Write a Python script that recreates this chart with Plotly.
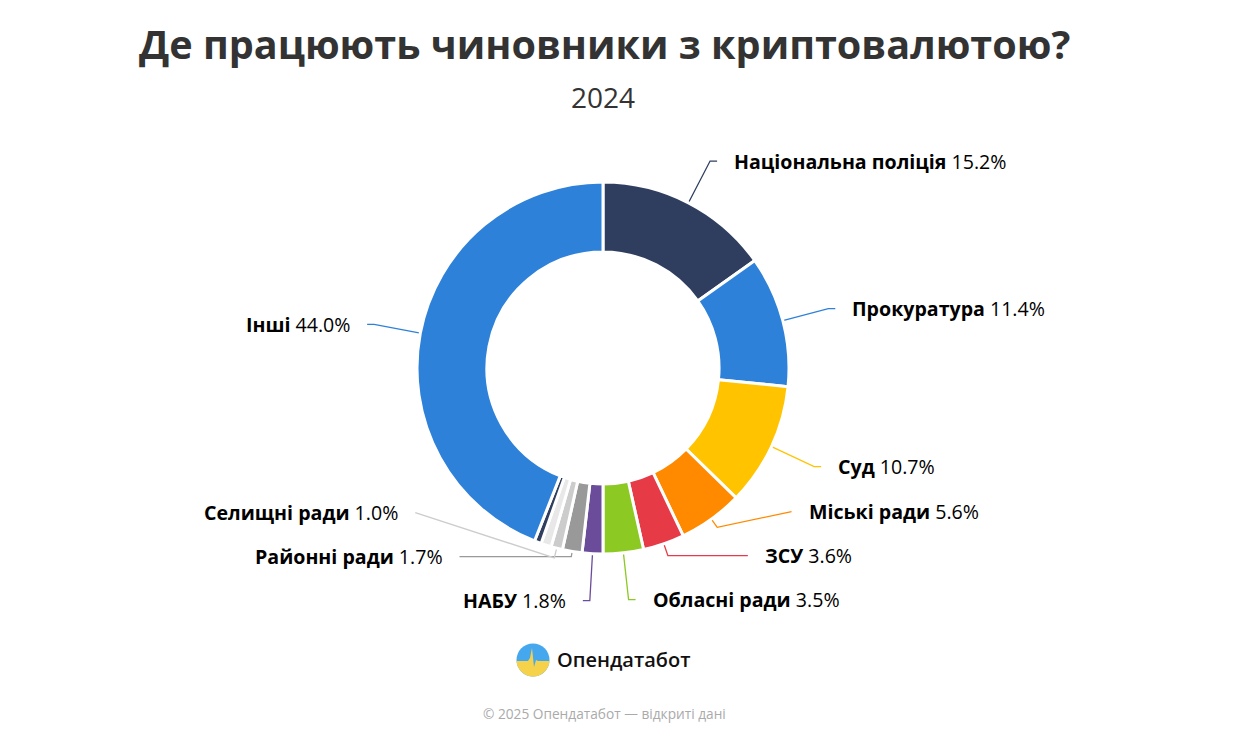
import numpy as np
import plotly.graph_objects as go

# ---------------- data ----------------
categories = ["Національна поліція", "Прокуратура", "Суд", "Міські ради", "ЗСУ",
              "Обласні ради", "НАБУ", "Районні ради", "Селищні ради", "", "", "Інші"]
shares = [15.2, 11.4, 10.7, 5.6, 3.6, 3.5, 1.8, 1.7, 1.0, 0.9, 0.6, 44.0]
show_label = [True, True, True, True, True, True, True, True, True, False, False, True]
colors = ["#2f3e5f", "#2e81d9", "#ffc300", "#ff8a00", "#e63a47", "#8cc923",
          "#6b4c9a", "#999999", "#cccccc", "#e8e8e8", "#2f3e5f", "#2e81d9"]
title_text = "Де працюють чиновники з криптовалютою?"
subtitle_text = "2024"
brand_text = "Опендатабот"
footer_text = "© 2025 Опендатабот — відкриті дані"

# ---------------- layout geometry (pixels) ----------------
W, H = 1238, 745
CX, CY = 603, 368
R_OUT = 186
HOLE = 0.624
R_LABEL = 233
R_MOVED = 237
L2 = 7
TEXT_GAP = 15
MIN_SPACING = 44
FONT = "Open Sans"

fig = go.Figure()

fig.add_trace(go.Pie(
    values=shares,
    sort=False,
    direction="clockwise",
    rotation=0,
    hole=HOLE,
    marker=dict(colors=colors, line=dict(color="white", width=3)),
    textinfo="none",
    hoverinfo="skip",
    showlegend=False,
    domain=dict(x=[(CX - R_OUT) / W, (CX + R_OUT) / W],
                y=[1 - (CY + R_OUT) / H, 1 - (CY - R_OUT) / H]),
))

# invisible pixel-space axes for labels / connectors
fig.add_trace(go.Scatter(x=[], y=[], showlegend=False, hoverinfo="skip"))

total = float(sum(shares))
cum = np.cumsum([0] + shares)
mids = [(cum[i] + shares[i] / 2) / total * 2 * np.pi for i in range(len(shares))]

items = []
for i, th in enumerate(mids):
    if not show_label[i]:
        continue
    side = 1 if th < np.pi else -1
    ny = CY - R_LABEL * np.cos(th)
    items.append(dict(i=i, th=th, side=side, ny=ny, y=ny))

# overlap avoidance per side: push labels upward from the bottom
for side in (1, -1):
    grp = sorted([it for it in items if it["side"] == side], key=lambda d: -d["ny"])
    prev = None
    for it in grp:
        if prev is not None and it["y"] > prev - MIN_SPACING:
            it["y"] = prev - MIN_SPACING
        prev = it["y"]

annotations = []
for it in items:
    i, th, side, ly = it["i"], it["th"], it["side"], it["y"]
    dx, dy = np.sin(th), -np.cos(th)
    p0 = (CX + R_OUT * dx, CY + R_OUT * dy)
    moved = abs(ly - it["ny"]) > 0.5
    if not moved:
        p1 = (CX + R_LABEL * dx, CY + R_LABEL * dy)
        end = (p1[0] + side * L2, ly)
    else:
        ex = CX + side * np.sqrt(max(R_MOVED ** 2 - (ly - CY) ** 2, 0))
        end = (ex, ly)
        t = (ly - p0[1]) / dy if abs(dy) > 1e-6 else -1
        if t >= 5:
            p1 = (p0[0] + t * dx, p0[1] + t * dy)
        else:
            p1 = (p0[0] + 10 * dx, p0[1] + 10 * dy)
    fig.add_trace(go.Scatter(
        x=[p0[0], p1[0], end[0]], y=[p0[1], p1[1], end[1]],
        mode="lines", line=dict(color=colors[i], width=1.3),
        hoverinfo="skip", showlegend=False))
    annotations.append(dict(
        x=end[0] + side * TEXT_GAP, y=ly, xref="x", yref="y",
        xanchor="left" if side == 1 else "right", yanchor="middle",
        text=f"<b>{categories[i]}</b> {shares[i]:.1f}%",
        showarrow=False, font=dict(family=FONT, size=19.6, color="#000000")))

# titles
annotations.append(dict(x=CX + 1, y=44, xref="x", yref="y", text=f"<b>{title_text}</b>",
                        showarrow=False, xanchor="center", yanchor="middle",
                        font=dict(family=FONT, size=39.6, color="#333333")))
annotations.append(dict(x=CX, y=97, xref="x", yref="y", text=subtitle_text,
                        showarrow=False, xanchor="center", yanchor="middle",
                        font=dict(family=FONT, size=28, color="#333333", weight=500)))
# brand
annotations.append(dict(x=555, y=659, xref="x", yref="y", text=brand_text,
                        showarrow=False, xanchor="left", yanchor="middle",
                        font=dict(family=FONT, size=20, color="#111111", weight=600)))
annotations.append(dict(x=CX + 1, y=713, xref="x", yref="y", text=footer_text,
                        showarrow=False, xanchor="center", yanchor="middle",
                        font=dict(family=FONT, size=13.7, color="#aaaaaa")))

# logo: blue disc with yellow lower part separated by a pulse line
LX, LY, LR = 533, 660, 16.5
shapes = [dict(type="circle", xref="x", yref="y", x0=LX - LR, x1=LX + LR,
               y0=LY - LR, y1=LY + LR, fillcolor="#45a8ef", line=dict(width=0), layer="above")]
pulse = [(-LR, 1), (-5, 1), (-3, -2), (-1, -12), (1, 7), (3, 0), (5, 1), (LR, 1)]
pts = [(LX + px, LY + py) for px, py in pulse]
base_y = 1
a0 = np.arcsin(base_y / LR)
arc_angs = np.linspace(a0, np.pi - a0, 30)
pts += [(LX + LR * np.cos(a), LY + LR * np.sin(a)) for a in arc_angs]
path = "M " + " L ".join(f"{x:.2f},{y:.2f}" for x, y in pts) + " Z"
shapes.append(dict(type="path", xref="x", yref="y", path=path,
                   fillcolor="#f6d24b", line=dict(width=0), layer="above"))

fig.update_layout(
    width=W, height=H,
    margin=dict(l=0, r=0, t=0, b=0),
    paper_bgcolor="white", plot_bgcolor="rgba(0,0,0,0)",
    xaxis=dict(range=[0, W], visible=False, fixedrange=True, domain=[0, 1]),
    yaxis=dict(range=[H, 0], visible=False, fixedrange=True, domain=[0, 1]),
    annotations=annotations, shapes=shapes,
    showlegend=False,
)

fig.write_html("out.html")
